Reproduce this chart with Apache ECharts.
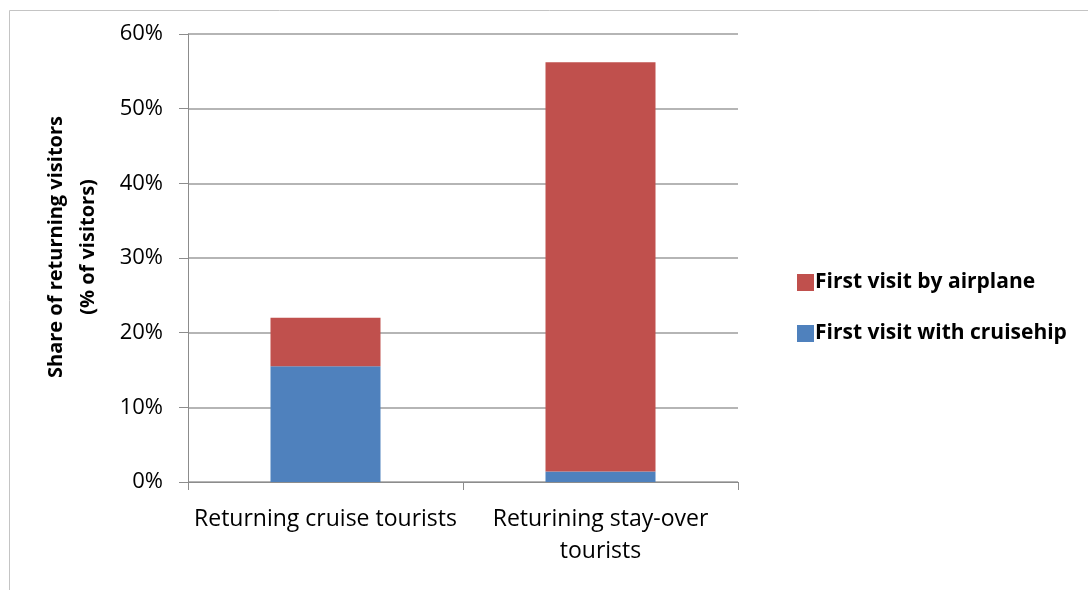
<!DOCTYPE html>
<html>
<head>
<meta charset="utf-8">
<script src="https://cdn.jsdelivr.net/npm/echarts@6/dist/echarts.min.js"></script>
<style>
html, body { margin: 0; padding: 0; background: #fff; }
#chart { width: 1088px; height: 590px; }
</style>
</head>
<body>
<div id="chart"></div>
<script>
// categories and series (percent of visitors)
const categories = ['Returning cruise tourists', 'Returining stay-over\ntourists'];
const cruiseFirst = [15.5, 1.4];
const airplaneFirst = [6.5, 54.8];
const yTicks = [0, 10, 20, 30, 40, 50, 60];

const fontName = 'Open Sans';
const chart = echarts.init(document.getElementById('chart'));

const option = {
	animation: false,
	backgroundColor: '#fff',
	textStyle: { fontFamily: fontName },
	graphic: [
		{
			type: 'rect',
			shape: { x: 9.5, y: 10.5, width: 1200, height: 700 },
			style: { fill: 'none', stroke: '#c4c4c4', lineWidth: 1 },
			silent: true,
		},
	],
	legend: {
		orient: 'vertical',
		left: 792,
		top: 267,
		itemWidth: 17,
		itemHeight: 17,
		itemGap: 30,
		icon: 'rect',
		data: ['First visit by airplane', 'First visit with cruisehip'],
		textStyle: { fontFamily: fontName, fontSize: 21, fontWeight: 'bold', color: '#000', padding: [0, 0, 0, -4] },
	},
	grid: {
		left: 188,
		right: 350,
		top: 34,
		bottom: 108,
		containLabel: false,
	},
	xAxis: {
		type: 'category',
		data: categories,
		axisLine: { show: true, lineStyle: { color: '#8c8c8c', width: 1 } },
		axisTick: { show: true, length: 8, alignWithLabel: false, lineStyle: { color: '#8c8c8c' } },
		axisLabel: {
			margin: 21,
			color: '#000',
			fontSize: 23,
			lineHeight: 32,
			fontFamily: fontName,
			interval: 0,
		},
	},
	yAxis: {
		type: 'value',
		min: yTicks[0],
		max: yTicks[yTicks.length - 1],
		interval: 10,
		name: 'Share of returning visitors\n(% of visitors)',
		nameLocation: 'middle',
		nameRotate: 90,
		nameGap: 84,
		nameTextStyle: { fontFamily: fontName, fontSize: 20, fontWeight: 'bold', color: '#000', lineHeight: 32, padding: [0, 0, 0, 22] },
		axisLine: { show: true, lineStyle: { color: '#8c8c8c', width: 1 } },
		axisTick: { show: true, inside: false, length: 9, lineStyle: { color: '#8c8c8c' } },
		axisLabel: {
			margin: 25,
			color: '#000',
			fontSize: 22,
			fontFamily: fontName,
			formatter: v => v + '%',
		},
		splitLine: { show: true, lineStyle: { color: '#9c9c9c', width: 1.5 } },
	},
	series: [
		{
			name: 'First visit with cruisehip',
			type: 'bar',
			stack: 'total',
			barWidth: '40%',
			itemStyle: { color: '#4f81bd' },
			data: cruiseFirst,
		},
		{
			name: 'First visit by airplane',
			type: 'bar',
			stack: 'total',
			barWidth: '40%',
			itemStyle: { color: '#c0504d' },
			data: airplaneFirst,
		},
	],
};

chart.setOption(option);
</script>
</body>
</html>
